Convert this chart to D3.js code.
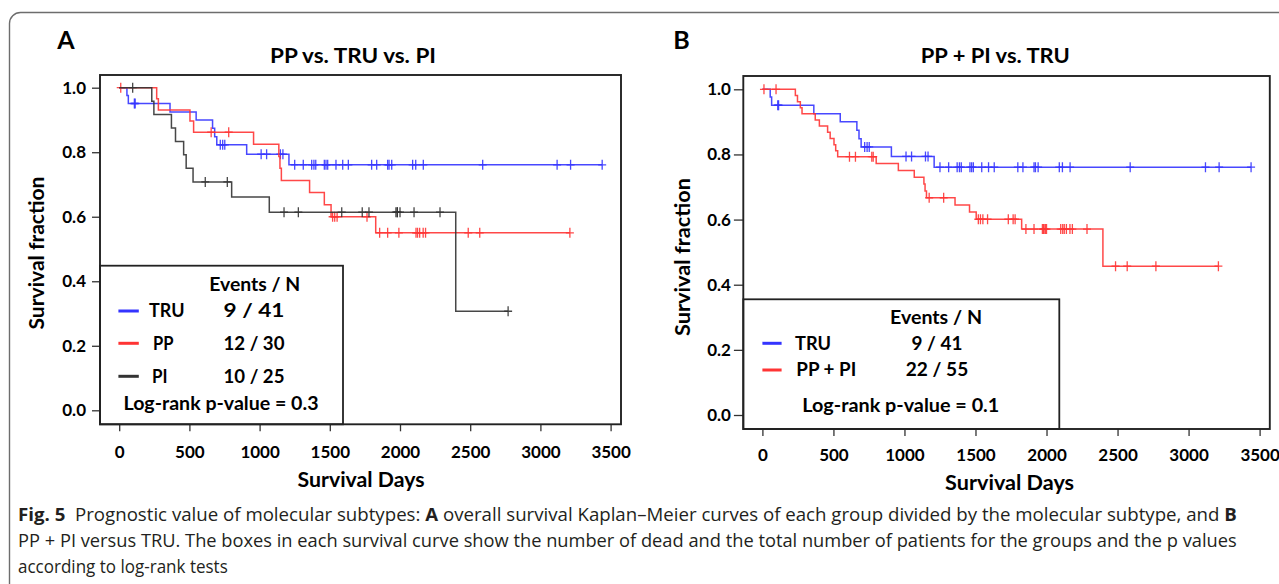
<!DOCTYPE html>
<html><head><meta charset="utf-8">
<script src="https://cdn.jsdelivr.net/npm/d3@7"></script>
<style>body{margin:0;background:#fff}svg{display:block}</style>
</head><body><svg id="c" width="1279" height="584"></svg>
<script>
// ---------------- DATA ----------------
const xTicks = [0, 500, 1000, 1500, 2000, 2500, 3000, 3500];
const yTicks = [0.0, 0.2, 0.4, 0.6, 0.8, 1.0];

// TRU (9 events / 41)
const truEventDays = [55, 65, 362, 548, 665, 680, 695, 908, 1209];
const truSurvival  = [0.976, 0.951, 0.925, 0.900, 0.874, 0.848, 0.823, 0.794, 0.761];
const truCensorDays = [108, 114, 720, 737, 752, 1011, 1050, 1148, 1166, 1250, 1311, 1371, 1387, 1400,
  1461, 1473, 1485, 1544, 1592, 1632, 1798, 1834, 1912, 1922, 1941, 2090, 2112, 2166, 2589, 3119, 3215, 3440];

// PP (12 events / 30)
const ppEventDays = [267, 279, 504, 530, 957, 1137, 1145, 1155, 1356, 1461, 1509, 1827];
const ppSurvival  = [0.966, 0.931, 0.897, 0.862, 0.825, 0.787, 0.750, 0.712, 0.675, 0.637, 0.600, 0.550];
const ppCensorDays = [11, 655, 780, 1520, 1535, 1552, 1765, 1855, 1912, 1992, 2114, 2125, 2140, 2165, 2182, 2486, 2568, 3210];

// PI (10 events / 25)
const piEventDays = [232, 247, 372, 401, 459, 477, 526, 801, 1069, 2397];
const piSurvival  = [0.958, 0.917, 0.875, 0.833, 0.792, 0.750, 0.708, 0.661, 0.614, 0.307];
const piCensorDays = [96, 613, 770, 1174, 1276, 1585, 1731, 1779, 1971, 1981, 1981, 2000, 2100, 2285, 2770];

// PP + PI (22 events / 55)
const ppPiEventDays = [232, 247, 267, 279, 372, 401, 459, 477, 504, 516, 530, 801, 957, 1069, 1137, 1145, 1155,
  1356, 1458, 1505, 1825, 2397];
const ppPiSurvival  = [0.981, 0.962, 0.943, 0.925, 0.906, 0.887, 0.868, 0.849, 0.830, 0.811, 0.793, 0.772, 0.751,
  0.730, 0.709, 0.688, 0.667, 0.645, 0.623, 0.601, 0.571, 0.457];
const ppPiCensorDays = [11, 96, 613, 655, 770, 780, 1174, 1276, 1520, 1535, 1552, 1585, 1731, 1765, 1779, 1855, 1912,
  1971, 1981, 1981, 1992, 2000, 2100, 2114, 2125, 2140, 2165, 2182, 2285, 2486, 2568, 2770, 3210];

const legendNamesA  = ['TRU', 'PP', 'PI'];
const legendCountsA = ['9 / 41', '12 / 30', '10 / 25'];
const legendNamesB  = ['TRU', 'PP + PI'];
const legendCountsB = ['9 / 41', '22 / 55'];
const pValueA = 'Log-rank p-value = 0.3';
const pValueB = 'Log-rank p-value = 0.1';

// ---------------- DRAWING ----------------
const svg = d3.select('#c');
const FONT = "Lato, 'Open Sans', sans-serif";
const COL = {blue: '#3434ff', red: '#ff3434', black: '#333333'};

// outer rounded border
svg.append('rect').attr('x', 9.5).attr('y', 12.5).attr('width', 1300).attr('height', 600)
  .attr('rx', 11).attr('fill', 'none').attr('stroke', '#6d6d6d').attr('stroke-width', 1.4);

function curve(days, surv, cens, color) { return {days, surv, cens, color}; }

const panels = [
  { letter: 'A', letterX: 66, title: 'PP vs. TRU vs. PI', titleX: 353, titleW: 166,
    frame: {l: 100, r: 621, t: 75, b: 424.3}, xr: [119.2, 610.6], yr: [410.3, 87.7],
    yTick: 8, yPad: 6, xTick: 7, xLabY: 451.7,
    ylabX: 37, ylabY: 253, ylabW: 153, xlabX: 361, xlabY: 480, xlabW: 127,
    curves: [curve(truEventDays, truSurvival, truCensorDays, COL.blue),
             curve(ppEventDays, ppSurvival, ppCensorDays, COL.red),
             curve(piEventDays, piSurvival, piCensorDays, COL.black)],
    legend: {x: 100, y: 265.7, w: 243, evX: 254.7, evY: 284.3, evW: 91,
      rows: [311, 343.3, 376.3], nameX: [149, 153, 152], countX: 254, lineX: [118.4, 138.8],
      names: legendNamesA, counts: legendCountsA, colors: [COL.blue, COL.red, COL.black],
      nameW: [35.5, 20.5, 15.5], countW: [61, 61, 61],
      p: pValueA, pX: 221, pY: 403.3, pW: 195}
  },
  { letter: 'B', letterX: 681.5, title: 'PP + PI vs. TRU', titleX: 995.3, titleW: 149,
    frame: {l: 743.3, r: 1269.8, t: 76, b: 429}, xr: [762.4, 1259.6], yr: [415, 89.3],
    yTick: 9.4, yPad: 3, xTick: 7, xLabY: 455,
    ylabX: 683, ylabY: 257, ylabW: 158, xlabX: 1009.6, xlabY: 483, xlabW: 129,
    curves: [curve(truEventDays, truSurvival, truCensorDays, COL.blue),
             curve(ppPiEventDays, ppPiSurvival, ppPiCensorDays, COL.red)],
    legend: {x: 743.3, y: 299.3, w: 316, evX: 936, evY: 317.3, evW: 92,
      rows: [343.3, 370], nameX: [795, 796.3], countX: 937, lineX: [762.4, 781.6],
      names: legendNamesB, counts: legendCountsB, colors: [COL.blue, COL.red],
      nameW: [36, 60], countW: [51, 62.5],
      p: pValueB, pX: 900.8, pY: 406, pW: 197}
  }
];

function label(g, text, x, y, size, opts = {}) {
  const t = g.append('text').attr('x', x).attr('y', y).attr('dy', '0.36em')
    .attr('font-family', FONT).attr('font-weight', 'bold').attr('font-size', size)
    .attr('fill', '#000').attr('text-anchor', opts.anchor || 'middle').text(text);
  if (opts.w) t.attr('textLength', opts.w).attr('lengthAdjust', 'spacingAndGlyphs');
  if (opts.rotate) t.attr('transform', `rotate(-90,${x},${y})`);
  return t;
}

panels.forEach(p => {
  const g = svg.append('g');
  const x = d3.scaleLinear().domain([0, 3500]).range(p.xr);
  const y = d3.scaleLinear().domain([0, 1]).range(p.yr);
  const f = p.frame;

  label(g, p.letter, p.letterX, 40, 25);
  label(g, p.title, p.titleX, 55, 21.5, {w: p.titleW});

  // axes
  const xa = g.append('g').attr('transform', `translate(0,${f.b})`)
    .call(d3.axisBottom(x).tickValues(xTicks).tickSize(p.xTick).tickPadding(p.xLabY - f.b - p.xTick - 6.1).tickFormat(d3.format('d')));
  const ya = g.append('g').attr('transform', `translate(${f.l},0)`)
    .call(d3.axisLeft(y).tickValues(yTicks).tickSize(p.yTick).tickPadding(p.yPad).tickFormat(d3.format('.1f')));
  [xa, ya].forEach(a => {
    a.select('.domain').remove();
    a.selectAll('line').attr('stroke', '#333').attr('stroke-width', 1.3);
    a.selectAll('text').attr('font-family', FONT).attr('font-weight', 'bold').attr('font-size', 17).attr('fill', '#000');
  });

  label(g, 'Survival Days', p.xlabX, p.xlabY, 20.5, {w: p.xlabW});
  label(g, 'Survival fraction', p.ylabX, p.ylabY, 20.5, {w: p.ylabW, rotate: true});

  // curves
  const plot = g.append('g');
  const line = d3.line().x(d => x(d[0])).y(d => y(d[1])).curve(d3.curveStepAfter);
  p.curves.forEach(c => {
    const endDay = Math.max(d3.max(c.cens), d3.max(c.days));
    const pts = [[0, 1]];
    c.days.forEach((d, i) => pts.push([d, c.surv[i]]));
    pts.push([endDay, c.surv[c.surv.length - 1]]);
    const levelAt = t => { let s = 1; c.days.forEach((d, i) => { if (d <= t) s = c.surv[i]; }); return s; };
    plot.append('path').attr('d', line(pts)).attr('fill', 'none').attr('stroke', c.color)
      .attr('stroke-width', 1.5).attr('stroke-opacity', 0.9);
    // censor "+" marks
    plot.append('g').selectAll('path').data(c.cens).join('path')
      .attr('d', t => { const cx = x(t), cy = y(levelAt(t));
        return `M${cx},${cy - 5}V${cy + 5}M${cx - 4},${cy}H${cx + 4}`; })
      .attr('stroke', c.color).attr('stroke-width', 1.3).attr('fill', 'none').attr('stroke-opacity', 0.9);
  });

  // legend box
  const L = p.legend;
  g.append('rect').attr('x', L.x).attr('y', L.y).attr('width', L.w).attr('height', f.b - L.y)
    .attr('fill', '#fff').attr('stroke', '#222').attr('stroke-width', 1.8);
  label(g, 'Events / N', L.evX, L.evY, 18, {w: L.evW});
  L.rows.forEach((ry, i) => {
    g.append('line').attr('x1', L.lineX[0]).attr('x2', L.lineX[1]).attr('y1', ry).attr('y2', ry)
      .attr('stroke', L.colors[i]).attr('stroke-width', 3);
    label(g, L.names[i], L.nameX[i], ry, 18, {anchor: 'start', w: L.nameW[i]});
    label(g, L.counts[i], L.countX, ry, 18, {w: L.countW[i]});
  });
  label(g, L.p, L.pX, L.pY, 18, {w: L.pW});

  // frame
  g.append('rect').attr('x', f.l).attr('y', f.t).attr('width', f.r - f.l).attr('height', f.b - f.t)
    .attr('fill', 'none').attr('stroke', '#222').attr('stroke-width', 1.9);
});

// caption
const CAP = "'Open Sans', 'Noto Sans', sans-serif";
const captionLines = [
  [['Fig. 5', true], ['  Prognostic value of molecular subtypes: ', false], ['A', true],
   [' overall survival Kaplan–Meier curves of each group divided by the molecular subtype, and ', false], ['B', true]],
  [['PP + PI versus TRU. The boxes in each survival curve show the number of dead and the total number of patients for the groups and the p values', false]],
  [['according to log-rank tests', false]]
];
const capY = [521, 547, 573];
const capW = [1220, 1220, 210];
captionLines.forEach((parts, i) => {
  const t = svg.append('text').attr('x', 0).attr('y', 0).attr('font-family', CAP).attr('font-size', 17.5)
    .attr('fill', '#231f20').attr('xml:space', 'preserve');
  parts.forEach(([s, b]) => t.append('tspan').attr('font-weight', b ? 'bold' : 'normal').text(s));
  const w = t.node().getComputedTextLength();
  t.attr('transform', `translate(18,${capY[i]}) scale(${capW[i] / w},1)`);
});
</script></body></html>
